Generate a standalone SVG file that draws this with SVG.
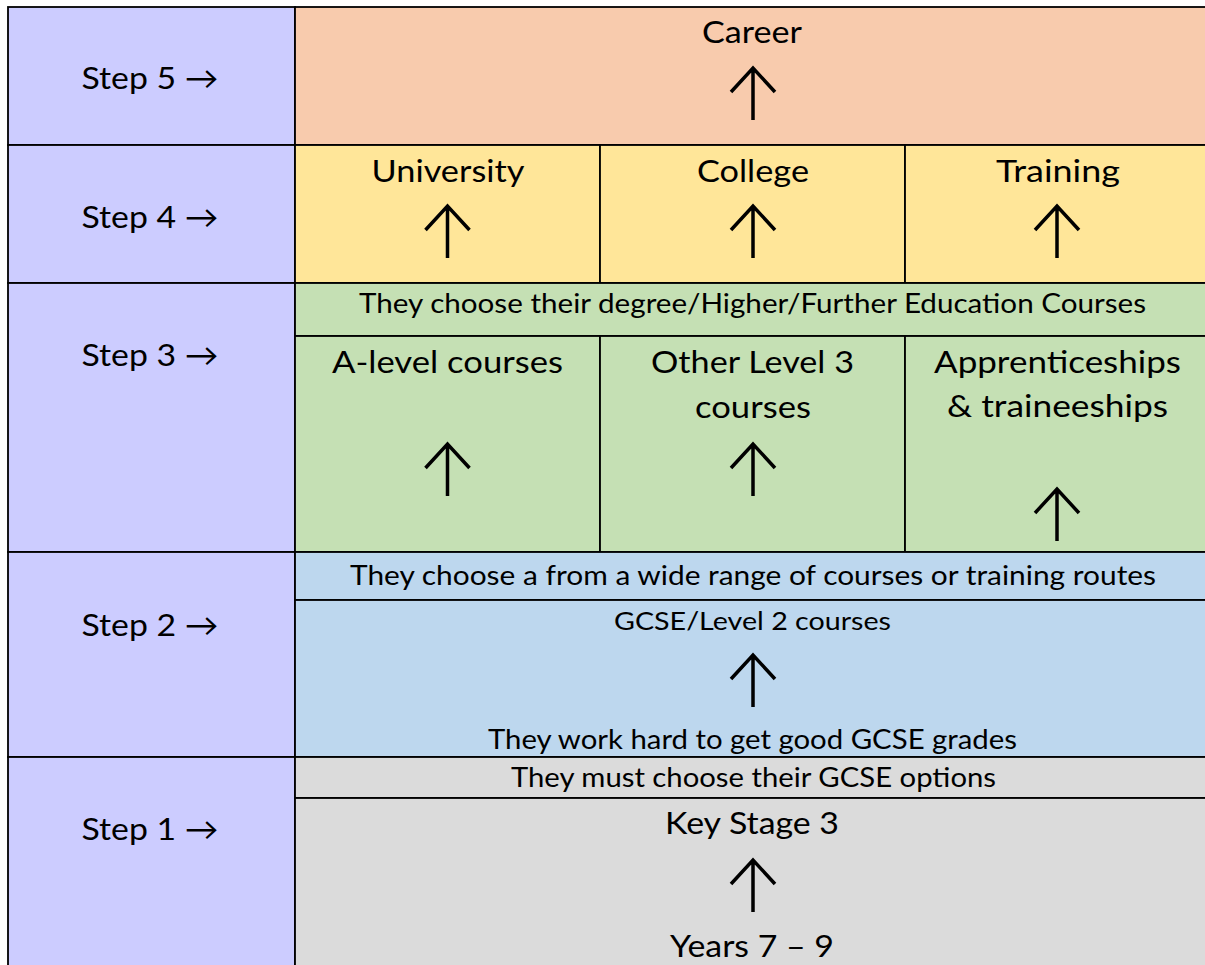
<svg xmlns="http://www.w3.org/2000/svg" width="1205" height="965" viewBox="0 0 1205 965">
<style>
text{font-family:Lato,"Open Sans","Liberation Sans",sans-serif;fill:#000;text-anchor:middle}
.big{font-size:31px}
.small{font-size:27px}
.step{font-size:31px}
.cell{stroke:#000;stroke-width:1.8}
.s{fill:#CCCCFF}.r5{fill:#F8CBAD}.r4{fill:#FFE699}.r3{fill:#C5E0B4}.r2{fill:#BDD7EE}.r1{fill:#DBDBDB}
.arr{fill:none;stroke:#000;stroke-width:3.5;stroke-linecap:butt;stroke-linejoin:miter}
</style>
<defs>
<path id="up" d="M0,52V0M-22,24L0,0L22,24"/>
</defs>
<rect width="1205" height="965" fill="#fff"/>
<g id="step5"><rect class="cell s" x="8" y="7" width="287" height="138"/><text class="step" x="150" y="89" textLength="137" lengthAdjust="spacingAndGlyphs">Step 5 →</text></g>
<g id="step4"><rect class="cell s" x="8" y="145" width="287" height="138"/><text class="step" x="150" y="228" textLength="137" lengthAdjust="spacingAndGlyphs">Step 4 →</text></g>
<g id="step3"><rect class="cell s" x="8" y="283" width="287" height="269"/><text class="step" x="150" y="366" textLength="137" lengthAdjust="spacingAndGlyphs">Step 3 →</text></g>
<g id="step2"><rect class="cell s" x="8" y="552" width="287" height="205"/><text class="step" x="150" y="636" textLength="137" lengthAdjust="spacingAndGlyphs">Step 2 →</text></g>
<g id="step1"><rect class="cell s" x="8" y="757" width="287" height="220"/><text class="step" x="150" y="840" textLength="137" lengthAdjust="spacingAndGlyphs">Step 1 →</text></g>

<g id="career"><rect class="cell r5" x="295" y="7" width="920" height="138"/><text class="big" x="752" y="43" textLength="100" lengthAdjust="spacingAndGlyphs">Career</text></g>
<g id="university"><rect class="cell r4" x="295" y="145" width="305" height="138"/><text class="big" x="448" y="182" textLength="153" lengthAdjust="spacingAndGlyphs">University</text></g>
<g id="college"><rect class="cell r4" x="600" y="145" width="305" height="138"/><text class="big" x="753" y="182" textLength="112" lengthAdjust="spacingAndGlyphs">College</text></g>
<g id="training"><rect class="cell r4" x="905" y="145" width="310" height="138"/><text class="big" x="1058" y="182" textLength="124" lengthAdjust="spacingAndGlyphs">Training</text></g>
<g id="choose-degree"><rect class="cell r3" x="295" y="283" width="920" height="53"/><text class="small" x="752.5" y="313" textLength="787" lengthAdjust="spacingAndGlyphs">They choose their degree/Higher/Further Education Courses</text></g>
<g id="a-level"><rect class="cell r3" x="295" y="336" width="305" height="216"/><text class="big" x="447.5" y="373" textLength="231" lengthAdjust="spacingAndGlyphs">A-level courses</text></g>
<g id="other-level3"><rect class="cell r3" x="600" y="336" width="305" height="216"/><text class="big" x="752.5" y="373" textLength="203" lengthAdjust="spacingAndGlyphs">Other Level 3</text><text class="big" x="753" y="418" textLength="116" lengthAdjust="spacingAndGlyphs">courses</text></g>
<g id="apprenticeships"><rect class="cell r3" x="905" y="336" width="310" height="216"/><text class="big" x="1057.5" y="373" textLength="247" lengthAdjust="spacingAndGlyphs">Apprenticeships</text><text class="big" x="1057.5" y="417" textLength="221" lengthAdjust="spacingAndGlyphs">&amp; traineeships</text></g>
<g id="choose-range"><rect class="cell r2" x="295" y="552" width="920" height="48"/><text class="small" x="753" y="585" textLength="806" lengthAdjust="spacingAndGlyphs">They choose a from a wide range of courses or training routes</text></g>
<g id="gcse"><rect class="cell r2" x="295" y="600" width="920" height="157"/><text class="small" x="752.5" y="630" style="font-size:25px" textLength="277" lengthAdjust="spacingAndGlyphs">GCSE/Level 2 courses</text><text class="small" x="752.5" y="749" textLength="529" lengthAdjust="spacingAndGlyphs">They work hard to get good GCSE grades</text></g>
<g id="choose-gcse"><rect class="cell r1" x="295" y="757" width="920" height="41"/><text class="small" x="753.5" y="787" textLength="485" lengthAdjust="spacingAndGlyphs">They must choose their GCSE options</text></g>
<g id="key-stage3"><rect class="cell r1" x="295" y="798" width="920" height="180"/><text class="big" x="752" y="834" textLength="174" lengthAdjust="spacingAndGlyphs">Key Stage 3</text><text class="big" x="752" y="957" textLength="164" lengthAdjust="spacingAndGlyphs">Years 7 – 9</text></g>

<g id="connectors" class="arr">
<use href="#up" x="753" y="68"/>
<use href="#up" x="447.5" y="206"/>
<use href="#up" x="753" y="206"/>
<use href="#up" x="1057" y="206"/>
<use href="#up" x="447.5" y="444"/>
<use href="#up" x="753" y="444"/>
<use href="#up" x="1057" y="489"/>
<use href="#up" x="753" y="655"/>
<use href="#up" x="753" y="860"/>
</g>
</svg>
